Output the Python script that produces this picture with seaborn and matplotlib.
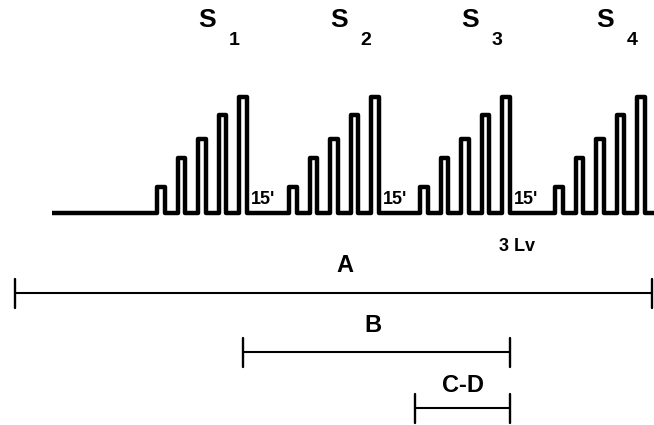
#Import Libraries
import numpy as np
import pandas as pd
import matplotlib
matplotlib.use("Agg")
import matplotlib.pyplot as plt
import seaborn as sns

#Adjustments
sns.set_theme(style="white")
plt.rcParams["font.family"] = ["Liberation Sans", "DejaVu Sans"]
plt.rcParams["text.color"] = "black"

#Schematic data (time units along x, amplitude in the same drawing units)
stim_labels = ["1", "2", "3", "4"]
group_onsets = [157, 289, 420, 555]          # start of each stimulus train
pulse_heights = [26, 55, 74, 98, 116]        # increasing pulse amplitudes
pulse_period = 20.5
pulse_width = 7.5
baseline = 213
trace_start = 52
pause_label = "15'"

interval_names = ["A", "B", "C-D"]
interval_start = [15, 243, 415]
interval_end = [652, 510, 510]
interval_level = [293, 352, 408]
interval_label_x = [345, 373, 463]
interval_label_y = [265, 326, 386]

#Build the trace from the pulse data
xs = [trace_start]
ys = [baseline]
for onset in group_onsets:
    for k, h in enumerate(pulse_heights):
        x0 = onset + k * pulse_period
        xs += [x0, x0, x0 + pulse_width, x0 + pulse_width]
        ys += [baseline, baseline - h, baseline - h, baseline]
xs.append(665)
ys.append(baseline)
trace = pd.DataFrame({"t": xs, "v": ys})

#Figure
fig = plt.figure(figsize=(6.54, 4.25), dpi=100)
ax = fig.add_axes([0, 0, 1, 1])
sns.lineplot(data=trace, x="t", y="v", sort=False, estimator=None, color="black",
             linewidth=3.2, ax=ax)
for line in ax.lines:
    line.set_solid_joinstyle("round")
    line.set_solid_capstyle("butt")

#Stimulus labels
for onset, lab in zip(group_onsets, stim_labels):
    ax.text(onset + 50, 20, "S", fontsize=19, fontweight="bold", ha="center", va="center")
    ax.text(onset + 77, 40, lab, fontsize=14, fontweight="bold", ha="center", va="center")

#Pause labels between trains
for onset in group_onsets[:-1]:
    last_fall = onset + (len(pulse_heights) - 1) * pulse_period + pulse_width
    ax.text(last_fall + 4, 208, pause_label, fontsize=13, fontweight="bold",
            ha="left", va="bottom")

ax.text(517, 246, "3 Lv", fontsize=13, fontweight="bold", ha="center", va="center")

#Interval bars
for name, x0, x1, yl, lx, ly in zip(interval_names, interval_start, interval_end,
                                     interval_level, interval_label_x, interval_label_y):
    ax.plot([x0, x1], [yl, yl], color="black", linewidth=1.5)
    ax.plot([x0, x0], [yl - 14, yl + 15], color="black", linewidth=1.7)
    ax.plot([x1, x1], [yl - 14, yl + 15], color="black", linewidth=1.7)
    ax.text(lx, ly, name, fontsize=17, fontweight="bold", ha="center", va="center")

ax.set_xlim(0, 654)
ax.set_ylim(425, 0)
ax.axis("off")
fig.savefig("out.png", dpi=100, facecolor="white")
